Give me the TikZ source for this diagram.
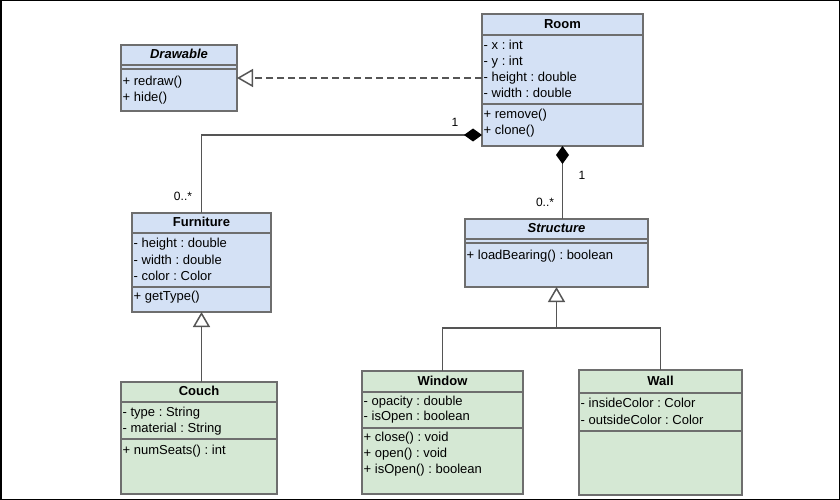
\documentclass[tikz,border=0pt]{standalone}
\usepackage{fontspec}
\setmainfont{Liberation Sans}
\usetikzlibrary{arrows.meta}
\definecolor{cblue}{HTML}{D4E1F5}
\definecolor{cgreen}{HTML}{D5E8D4}
\definecolor{cborder}{HTML}{6E6E6E}
\definecolor{cline}{HTML}{555555}
\frenchspacing
\begin{document}
\begin{tikzpicture}[x=1pt,y=-1pt,
  cls/.style={draw=cborder, line width=1.8pt, inner sep=0pt, outer sep=0pt, anchor=north west},
  bluecls/.style={cls, fill=cblue},
  greencls/.style={cls, fill=cgreen},
  attr/.style={anchor=west, inner sep=0pt, font=\fontsize{13}{15}\selectfont, text height=9.5pt, text depth=2.5pt},
  ttl/.style={inner sep=0pt, font=\bfseries\fontsize{13}{15}\selectfont, text height=9.5pt, text depth=2.5pt},
  ittl/.style={ttl, font=\bfseries\itshape\fontsize{13}{15}\selectfont},
  mult/.style={inner sep=0pt, font=\fontsize{12}{14}\selectfont},
  div/.style={draw=cborder, line width=1.6pt},
  conn/.style={draw=cline, line width=1.5pt},
  inh/.style={conn, -{Triangle[open, length=15pt, width=17pt, fill=white]}},
  real/.style={conn, dash pattern=on 7pt off 4pt, -{Triangle[open, length=16pt, width=18pt, fill=white]}},
  comp/.style={conn, {Diamond[length=18pt, width=13pt, color=black, fill=black]}-}
]
\useasboundingbox (0,0) rectangle (840,500);
\draw[black, line width=1.5pt] (0.75,0.75) rectangle (839.25,499.25);

% Room
\node[bluecls, minimum width=161pt, minimum height=132pt] (room) at (482,14) {};
\node[ttl] (room-t) at (562.5,25) {Room};
\draw[div] (482,35) -- (643,35);
\draw[div] (482,104) -- (643,104);
\node[attr] (room-a1) at (483.5,46.5) {- x : int};
\node[attr] (room-a2) at (483.5,62) {- y : int};
\node[attr] (room-a3) at (483.5,78) {- height : double};
\node[attr] (room-a4) at (483.5,94) {- width : double};
\node[attr] (room-m1) at (483.5,115) {+ remove()};
\node[attr] (room-m2) at (483.5,131) {+ clone()};

% Drawable
\node[bluecls, minimum width=116pt, minimum height=66pt] (drawable) at (121,45) {};
\node[ittl] (drawable-t) at (179,55.5) {Drawable};
\draw[div] (121,65) -- (237,65);
\draw[div] (121,69) -- (237,69);
\node[attr] (drawable-m1) at (122.5,82) {+ redraw()};
\node[attr] (drawable-m2) at (122.5,98) {+ hide()};

% Furniture
\node[bluecls, minimum width=139pt, minimum height=99pt] (furniture) at (132,213) {};
\node[ttl] (furniture-t) at (201.5,223) {Furniture};
\draw[div] (132,233) -- (271,233);
\draw[div] (132,287) -- (271,287);
\node[attr] (furniture-a1) at (133.5,244) {- height : double};
\node[attr] (furniture-a2) at (133.5,261) {- width : double};
\node[attr] (furniture-a3) at (133.5,277) {- color : Color};
\node[attr] (furniture-m1) at (133.5,297) {+ getType()};

% Couch
\node[greencls, minimum width=156pt, minimum height=112pt] (couch) at (121,382) {};
\node[ttl] (couch-t) at (199,392) {Couch};
\draw[div] (121,402) -- (277,402);
\draw[div] (121,439) -- (277,439);
\node[attr] (couch-a1) at (122.5,413) {- type : String};
\node[attr] (couch-a2) at (122.5,429) {- material : String};
\node[attr] (couch-m1) at (122.5,451) {+ numSeats() : int};

% Structure
\node[bluecls, minimum width=183pt, minimum height=68pt] (structure) at (465,219) {};
\node[ittl] (structure-t) at (556.5,229) {Structure};
\draw[div] (465,239) -- (648,239);
\draw[div] (465,243) -- (648,243);
\node[attr] (structure-m1) at (466.5,256) {+ loadBearing() : boolean};

% Window
\node[greencls, minimum width=161pt, minimum height=123pt] (window) at (362,371) {};
\node[ttl] (window-t) at (442.5,381.5) {Window};
\draw[div] (362,392) -- (523,392);
\draw[div] (362,428) -- (523,428);
\node[attr] (window-a1) at (363.5,402) {- opacity : double};
\node[attr] (window-a2) at (363.5,417) {- isOpen : boolean};
\node[attr] (window-m1) at (363.5,438) {+ close() : void};
\node[attr] (window-m2) at (363.5,454) {+ open() : void};
\node[attr] (window-m3) at (363.5,470) {+ isOpen() : boolean};

% Wall
\node[greencls, minimum width=163pt, minimum height=125pt] (wall) at (579,370) {};
\node[ttl] (wall-t) at (660.5,381.5) {Wall};
\draw[div] (579,393) -- (742,393);
\draw[div] (579,431) -- (742,431);
\node[attr] (wall-a1) at (580.5,403.5) {- insideColor : Color};
\node[attr] (wall-a2) at (580.5,421) {- outsideColor : Color};

% Connectors
\draw[real] (room.west |- drawable.east) -- (drawable.east);

\coordinate (jf) at (201.5,135);
\coordinate (jr) at (482,135);
\draw[comp] (jr) -- (jf) -- (furniture.north);

\draw[comp] (room.south) -- (room.south |- structure.north);

\draw[inh] (furniture.south |- couch.north) -- (furniture.south);

\coordinate (bus) at (556.5,328);
\draw[conn] (window.north) |- (bus) -| (wall.north);
\draw[inh] (bus) -- (structure.south);

% Multiplicities
\node[mult] (m1) at (455,122) {1};
\node[mult] (m2) at (183,196) {0..*};
\node[mult] (m3) at (582,175) {1};
\node[mult] (m4) at (545,202) {0..*};
\end{tikzpicture}
\end{document}
